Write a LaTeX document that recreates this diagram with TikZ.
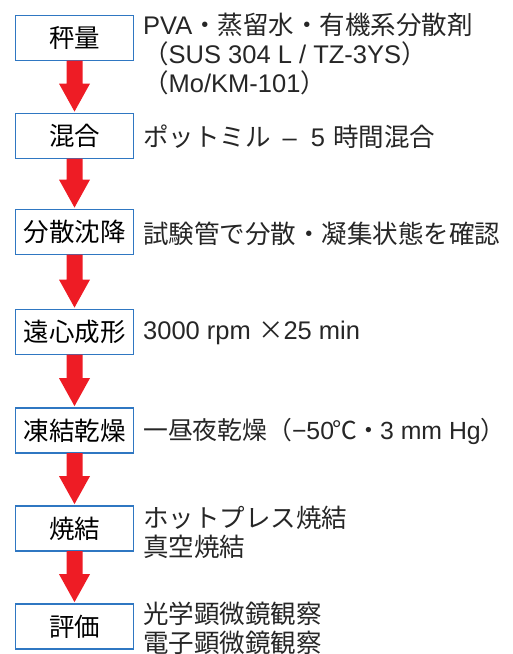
\documentclass[tikz,border=0pt]{standalone}
\usepackage{fontspec}
\setmainfont{Noto Sans CJK JP}
\newfontfamily\lat{Liberation Sans}
\usetikzlibrary{calc}
\definecolor{boxblue}{HTML}{2F77C2}
\definecolor{arrowred}{HTML}{EE1C25}
\tikzset{
  stepbox/.style={draw=boxblue, line width=1.8pt, fill=white, minimum width=118pt, minimum height=45pt, inner sep=0pt, font=\fontsize{25.5}{28}\selectfont},
  note/.style={anchor=west, align=left, inner sep=0pt, font=\fontsize{25.5}{29}\selectfont, text=black!85}
}
\newcommand{\flowarrow}[2]{%
  \fill[arrowred] ($(#1.south)+(-8pt,0.9pt)$) -- ($(#1.south)+(8pt,0.9pt)$) --
    ($(#2.north)+(8pt,29pt)$) -- ($(#2.north)+(15.5pt,29pt)$) -- ($(#2.north)+(0,1pt)$) --
    ($(#2.north)+(-15.5pt,29pt)$) -- ($(#2.north)+(-8pt,29pt)$) -- cycle;}
\begin{document}
\begin{tikzpicture}[x=1pt,y=-1pt]
\useasboundingbox (0,0) rectangle (513,654);
\node[stepbox] (s1) at (74.5,38) {秤量};
\node[stepbox] (s2) at (74.5,136) {混合};
\node[stepbox] (s3) at (74.5,232) {分散沈降};
\node[stepbox] (s4) at (74.5,332) {遠心成形};
\node[stepbox] (s5) at (74.5,430.5) {凍結乾燥};
\node[stepbox] (s6) at (74.5,528.5) {焼結};
\node[stepbox] (s7) at (74.5,626.5) {評価};
\flowarrow{s1}{s2}
\flowarrow{s2}{s3}
\flowarrow{s3}{s4}
\flowarrow{s4}{s5}
\flowarrow{s5}{s6}
\flowarrow{s6}{s7}
\node[note] (t1) at (143,54) {{\lat PVA}・蒸留水・有機系分散剤\\（{\lat SUS 304 L / TZ-3YS}）\\（{\lat Mo/KM-101}）};
\node[note] (t2) at (143,137) {ポットミル\hspace{12pt}{\lat –}\hspace{14pt}{\lat 5}\hspace{8pt}時間混合};
\node[note] (t3) at (143,234) {試験管で分散・凝集状態を確認};
\node[note] (t4) at (143,333) {{\lat 3000 rpm }×{\lat 25 min}};
\node[note, font=\fontsize{24.8}{29}\selectfont] (t5) at (143,431) {一昼夜乾燥（{\lat −50}\hspace{-1.5pt}℃\hspace{-1pt}・\hspace{-1pt}{\lat 3 mm Hg}）};
\node[note] (t6) at (143,532) {ホットプレス焼結\\真空焼結};
\node[note] (t7) at (143,628) {光学顕微鏡観察\\電子顕微鏡観察};
\end{tikzpicture}
\end{document}
